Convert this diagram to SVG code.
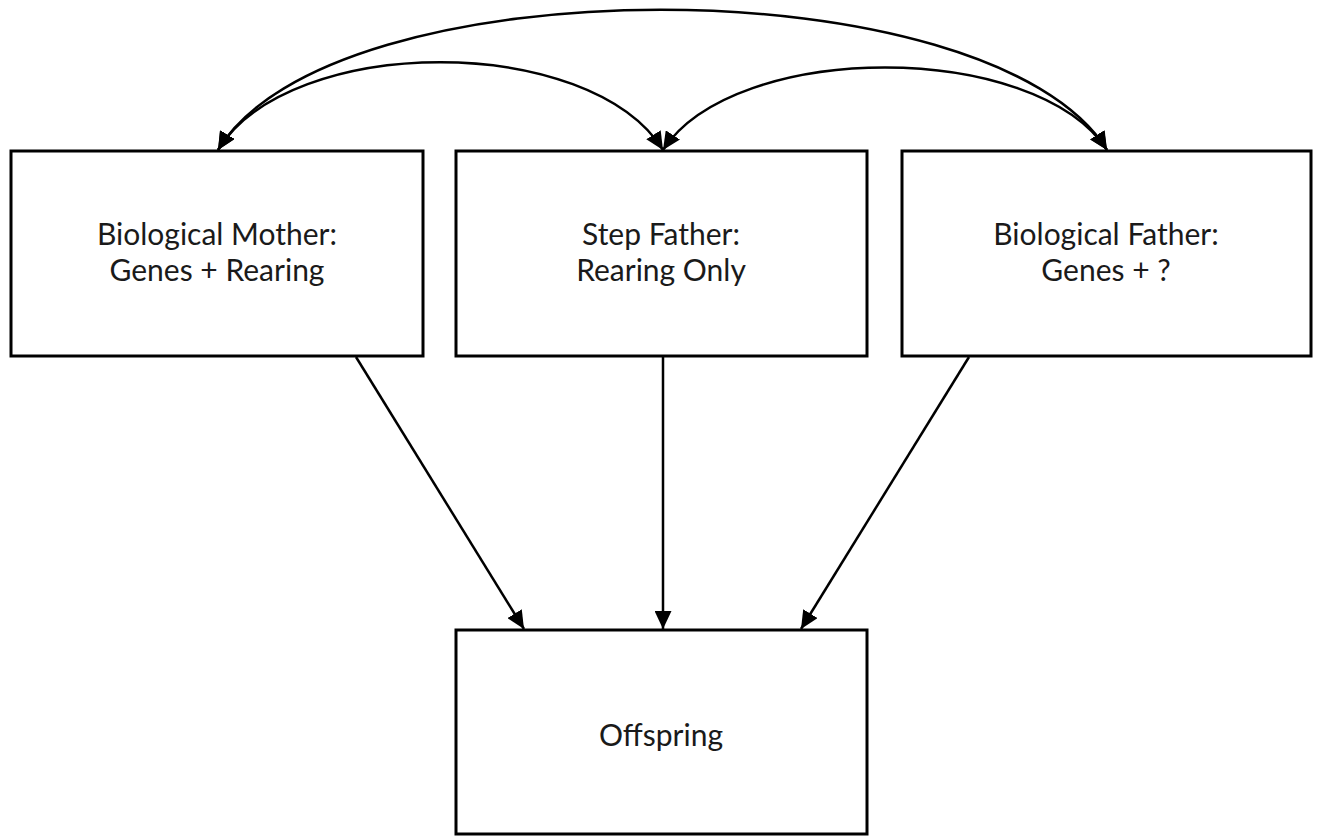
<svg xmlns="http://www.w3.org/2000/svg" width="1320" height="836" viewBox="0 0 1320 836">
  <style>
    .box { fill: #ffffff; stroke: #000000; stroke-width: 3; }
    .lbl { font-family: Lato, "Open Sans", "Liberation Sans", sans-serif; font-size: 30px; fill: #1a1a1a; text-anchor: middle; }
    .edge { fill: none; stroke: #000000; stroke-width: 2.5; }
  </style>
  <defs>
    <marker id="head" markerUnits="userSpaceOnUse" markerWidth="19" markerHeight="17" refX="18" refY="8.5" orient="auto-start-reverse" viewBox="0 0 19 17">
      <path d="M0,0 L18,8.5 L0,17 z" fill="#000000"/>
    </marker>
  </defs>

  <g id="connectors">
    <!-- covariance arcs across the top -->
    <path class="edge" d="M218,150 C330,-37 990,-37 1107,150" marker-start="url(#head)" marker-end="url(#head)"/>
    <path class="edge" d="M218,150 C290,33 590,33 663,150" marker-start="url(#head)" marker-end="url(#head)"/>
    <path class="edge" d="M663,150 C735,40 1035,40 1107,150" marker-start="url(#head)" marker-end="url(#head)"/>
    <!-- paths into the offspring -->
    <line class="edge" x1="356" y1="357" x2="524" y2="629" marker-end="url(#head)"/>
    <line class="edge" x1="663" y1="357" x2="663" y2="629" marker-end="url(#head)"/>
    <line class="edge" x1="969" y1="357" x2="801" y2="629" marker-end="url(#head)"/>
  </g>

  <g id="bio-mother">
    <rect class="box" x="11" y="151" width="412" height="205"/>
    <text class="lbl" x="217" y="245">Biological Mother:</text>
    <text class="lbl" x="217" y="281">Genes + Rearing</text>
  </g>

  <g id="step-father">
    <rect class="box" x="456" y="151" width="411" height="205"/>
    <text class="lbl" x="661" y="245">Step Father:</text>
    <text class="lbl" x="661" y="281">Rearing Only</text>
  </g>

  <g id="bio-father">
    <rect class="box" x="902" y="151" width="409" height="205"/>
    <text class="lbl" x="1106" y="245">Biological Father:</text>
    <text class="lbl" x="1106" y="281">Genes + ?</text>
  </g>

  <g id="offspring">
    <rect class="box" x="456" y="630" width="411" height="204"/>
    <text class="lbl" x="661" y="746">Offspring</text>
  </g>
</svg>
